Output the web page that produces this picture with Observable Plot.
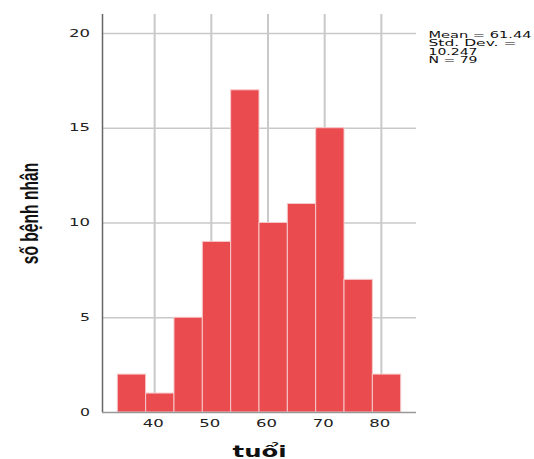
<!DOCTYPE html>
<html>
<head>
<meta charset="utf-8">
<script src="https://cdn.jsdelivr.net/npm/d3@7"></script>
<script src="https://cdn.jsdelivr.net/npm/@observablehq/plot@0.6"></script>
<style>
  html, body { margin: 0; padding: 0; background: #fff; }
  #chart svg { display: block; }
</style>
</head>
<body>
<div id="chart"></div>
<script>
// ---- data ----
const binLower = [33.5, 38.5, 43.5, 48.5, 53.5, 58.5, 63.5, 68.5, 73.5, 78.5];
const binUpper = [38.5, 43.5, 48.5, 53.5, 58.5, 63.5, 68.5, 73.5, 78.5, 83.5];
const counts   = [2, 1, 5, 9, 17, 10, 11, 15, 7, 2];
const xTicks   = [40, 50, 60, 70, 80];
const yTicks   = [0, 5, 10, 15, 20];
const statLines = ["Mean = 61.44", "Std. Dev. =", "10.247", "N = 79"];
const xLabel = "tuổi";
const yLabel = "số bệnh nhân";

const table = binLower.map((lo, i) => ({lo, hi: binUpper[i], count: counts[i]}));
const xDomain = [30.8, 86.2];
const yDomain = [0, 21];

const tickFont = "DejaVu Sans, sans-serif";
const yLabelLen = 101.5;

const chart = Plot.plot({
  width: 534,
  height: 459,
  marginLeft: 102,
  marginRight: 118,
  marginTop: 14,
  marginBottom: 47,
  x: {domain: xDomain, axis: null},
  y: {domain: yDomain, axis: null},
  style: {background: "#fff", fontFamily: tickFont, overflow: "visible"},
  marks: [
    Plot.ruleX(xTicks, {x: d => d, stroke: "#c9c9c9", strokeWidth: 2}),
    Plot.ruleY(yTicks.filter(d => d > 0), {y: d => d, stroke: "#c9c9c9", strokeWidth: 1.5}),
    Plot.rect(table, {x1: "lo", x2: "hi", y1: 0, y2: "count", fill: "#ea4b4f", stroke: "#f7c9ca", strokeWidth: 1}),
    Plot.ruleX([xDomain[0]], {x: d => d, stroke: "#666", strokeWidth: 1.5}),
    Plot.ruleY([yDomain[0]], {y: d => d, stroke: "#999", strokeWidth: 1.5}),
    Plot.text(xTicks, {x: d => d, text: d => String(d), frameAnchor: "bottom", dy: 11.7, dx: -1.5,
      lineAnchor: "middle", fontSize: 10, fill: "#222"}),
    Plot.text(yTicks, {y: d => d, text: d => String(d), frameAnchor: "left", dx: -12.4,
      textAnchor: "end", lineAnchor: "middle", fontSize: 10, fill: "#222"}),
    Plot.text([xLabel], {text: d => d, frameAnchor: "bottom", dy: 44, lineAnchor: "bottom",
      fontSize: 15, fontWeight: "bold", fill: "#111"}),
    Plot.text([yLabel], {text: d => d, frameAnchor: "left", dx: -72, dy: yLabelLen / 2, rotate: -90,
      textAnchor: "start", lineAnchor: "middle",
      fontSize: 24, fontWeight: "bold", fill: "#111",
      fontFamily: "Liberation Sans Narrow, Liberation Sans, Arial, sans-serif"}),
    ...statLines.map((s, i) => Plot.text([s], {text: d => d, frameAnchor: "top-right", dx: 12,
      dy: 21 + i * 8.2, textAnchor: "start", lineAnchor: "middle", fontSize: 8.5, fill: "#111"}))
  ]
});

document.getElementById("chart").appendChild(chart);

// horizontally stretch / squeeze texts to the widths seen in the reference
const widthOf = new Map([
  ["40", 21], ["50", 21], ["60", 21], ["70", 21], ["80", 21],
  ["0", 10], ["5", 10], ["10", 21], ["15", 21], ["20", 21],
  [xLabel, 54], [yLabel, yLabelLen],
  [statLines[0], 103], [statLines[1], 88], [statLines[2], 49], [statLines[3], 49]
]);
chart.querySelectorAll("text").forEach(el => {
  const w = widthOf.get(el.textContent);
  if (!w) return;
  el.setAttribute("textLength", w);
  el.setAttribute("lengthAdjust", "spacingAndGlyphs");
});
</script>
</body>
</html>
